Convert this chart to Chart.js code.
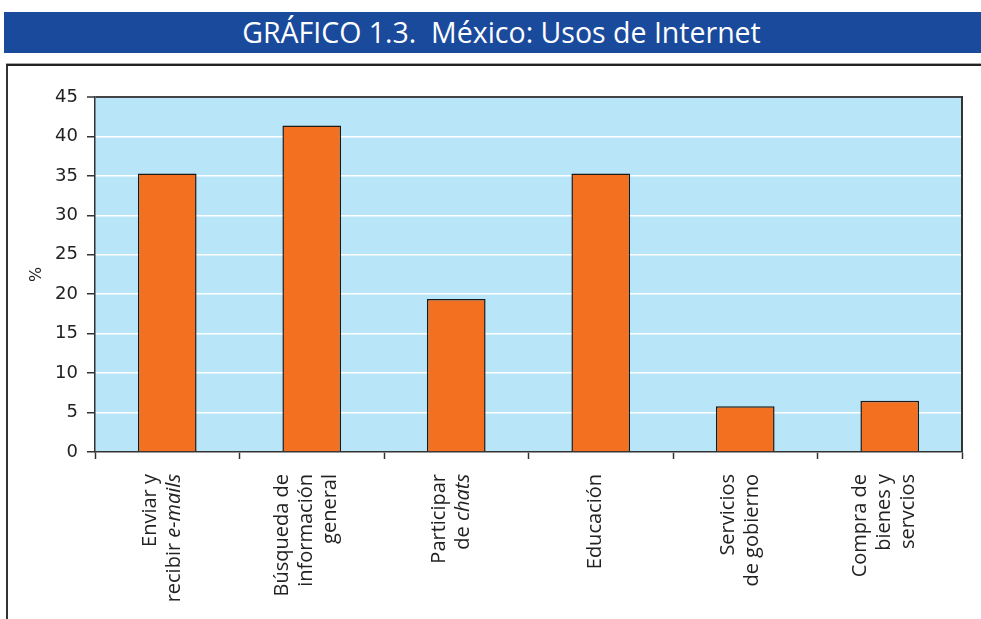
<!DOCTYPE html>
<html lang="es">
<head>
<meta charset="UTF-8">
<title>GRÁFICO 1.3. México: Usos de Internet</title>
<script src="https://cdn.jsdelivr.net/npm/chart.js"></script>
<style>
body {
    margin: 0;
    width: 981px;
    height: 619px;
    overflow: hidden;
    background: #fff;
    font-family: "Open Sans", sans-serif;
    position: relative;
}
.banner {
    position: absolute;
    top: 12px;
    left: 4px;
    right: 0;
    height: 41px;
    line-height: 41px;
    background: #1a4a9c;
    color: #fff;
    font-size: 28.5px;
    text-align: center;
    padding-left: 18px;
    box-sizing: border-box;
}
.frame {
    position: absolute;
    top: 64px;
    left: 6px;
    right: -4px;
    bottom: -4px;
    border-top: 2px solid #222;
    border-left: 2px solid #333;
    box-shadow: 0 -1px 0 #aaa;
}
#chart {
    position: absolute;
    top: 0;
    left: 0;
}
</style>
</head>
<body>
<div class="banner">GRÁFICO 1.3.&nbsp; México: Usos de Internet</div>
<div class="frame"></div>
<canvas id="chart" width="981" height="619"></canvas>

<script>
// datos; _texto_ = cursiva
const categories = [
    ['Enviar y', 'recibir _e-mails_'],
    ['Búsqueda de', 'información', 'general'],
    ['Participar', 'de _chats_'],
    ['Educación'],
    ['Servicios', 'de gobierno'],
    ['Compra de', 'bienes y', 'servcios']
];
const values = [35.3, 41.4, 19.4, 35.3, 5.8, 6.5];
const yTicks = [0, 5, 10, 15, 20, 25, 30, 35, 40, 45];
const yTitle = '%';

const labelFont = '20px "Open Sans"';
const labelFontIt = 'italic 20px "Open Sans"';

// fondo celeste del área de trazado + borde derecho
const plotBg = {
    id: 'plotBg',
    beforeDraw(chart) {
        const a = chart.chartArea, ctx = chart.ctx;
        ctx.save();
        ctx.fillStyle = '#b9e5f9';
        ctx.fillRect(a.left, a.top, a.right - a.left, a.bottom - a.top);
        ctx.restore();
    },
    afterDraw(chart) {
        const a = chart.chartArea, ctx = chart.ctx;
        ctx.save();
        ctx.strokeStyle = '#333';
        ctx.lineWidth = 2;
        ctx.beginPath();
        ctx.moveTo(a.right, a.top - 1);
        ctx.lineTo(a.right, a.bottom);
        ctx.stroke();
        ctx.restore();
    }
};

// etiquetas del eje x: giradas, centradas, con cursivas
const xLabels = {
    id: 'xLabels',
    afterDraw(chart) {
        const xs = chart.scales.x, ctx = chart.ctx;
        const gap = 24, pad = 22, shift = -5;
        ctx.save();
        ctx.fillStyle = '#222';
        ctx.textBaseline = 'middle';
        ctx.textAlign = 'left';
        categories.forEach((lines, i) => {
            const cx = xs.getPixelForValue(i) + shift;
            lines.forEach((line, j) => {
                const px = cx + (j - (lines.length - 1) / 2) * gap;
                const segs = line.split('_');
                let total = 0;
                segs.forEach((s, k) => {
                    ctx.font = k % 2 ? labelFontIt : labelFont;
                    total += ctx.measureText(s).width;
                });
                ctx.save();
                ctx.translate(px, xs.top + pad);
                ctx.rotate(-Math.PI / 2);
                let x = -total;
                segs.forEach((s, k) => {
                    ctx.font = k % 2 ? labelFontIt : labelFont;
                    ctx.fillText(s, x, 0);
                    x += ctx.measureText(s).width;
                });
                ctx.restore();
            });
        });
        ctx.restore();
    }
};

new Chart(document.getElementById('chart'), {
    type: 'bar',
    data: {
        labels: categories.map(l => l.join(' ').replace(/_/g, '')),
        datasets: [{
            data: values,
            backgroundColor: '#f37021',
            borderColor: '#1a1a1a',
            borderWidth: 1.5,
            barPercentage: 0.406,
            categoryPercentage: 1
        }]
    },
    options: {
        responsive: false,
        animation: false,
        layout: { padding: { left: 23, top: 97, right: 19, bottom: 0 } },
        plugins: {
            legend: { display: false },
            tooltip: { enabled: false }
        },
        scales: {
            x: {
                ticks: { display: false },
                grid: {
                    offset: true,
                    drawOnChartArea: false,
                    tickLength: 7,
                    tickColor: '#333',
                    tickWidth: 1.5
                },
                border: { color: '#333', width: 1.5 },
                afterFit(scale) { scale.height = 167; }
            },
            y: {
                min: 0,
                max: 45,
                afterBuildTicks(scale) { scale.ticks = yTicks.map(v => ({ value: v })); },
                ticks: {
                    color: '#222',
                    padding: 9,
                    font: { family: 'DejaVu Sans', size: 18 }
                },
                grid: {
                    color: ctx => ctx.tick && ctx.tick.value === 45 ? '#444' : '#ffffff',
                    lineWidth: ctx => ctx.tick && ctx.tick.value === 45 ? 2 : 1.5,
                    tickLength: 8,
                    tickColor: '#333',
                    tickWidth: 1.5
                },
                border: { color: '#333', width: 1.5 },
                title: {
                    display: true,
                    text: yTitle,
                    color: '#222',
                    padding: 4,
                    font: { family: 'DejaVu Sans', size: 16 }
                },
                afterFit(scale) { scale.width = 72; }
            }
        }
    },
    plugins: [plotBg, xLabels]
});
</script>
</body>
</html>
